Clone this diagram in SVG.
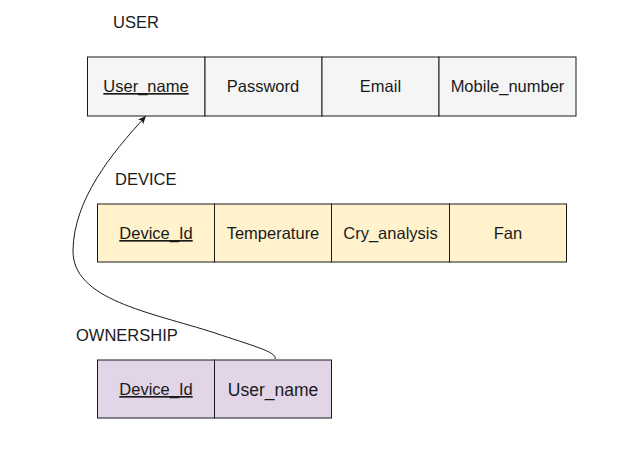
<svg xmlns="http://www.w3.org/2000/svg" width="635" height="465" viewBox="0 0 635 465">
<style>
text{font-family:"Liberation Sans",Arial,sans-serif;font-size:16.5px;fill:#1a1a1a}
.c{text-anchor:middle}
.k{text-decoration:underline}
.big{font-size:17.5px}
rect{stroke:#1a1a1a;stroke-width:1}
.u{fill:#f5f5f5}
.d{fill:#fff2cc}
.o{fill:#e1d5e7}
.edge{fill:none;stroke:#1a1a1a;stroke-width:1}
</style>
<defs>
<marker id="arr" markerWidth="10" markerHeight="10" refX="9" refY="5" orient="auto" markerUnits="userSpaceOnUse">
<path d="M1,1.5 L9,5 L1,8.5 L3,5 Z" fill="#1a1a1a"/>
</marker>
</defs>
<g id="user">
<text x="113" y="28">USER</text>
<rect class="u" x="87.5" y="57" width="117.5" height="59"/>
<rect class="u" x="205" y="57" width="117" height="59"/>
<rect class="u" x="322" y="57" width="117" height="59"/>
<rect class="u" x="439" y="57" width="137" height="59"/>
<text class="c k" x="146" y="92">User_name</text>
<text class="c" x="263" y="92">Password</text>
<text class="c" x="380.5" y="92">Email</text>
<text class="c" x="507.5" y="92">Mobile_number</text>
</g>
<g id="device">
<text x="115" y="185">DEVICE</text>
<rect class="d" x="97.5" y="204" width="117" height="58"/>
<rect class="d" x="214.5" y="204" width="117" height="58"/>
<rect class="d" x="331.5" y="204" width="118" height="58"/>
<rect class="d" x="449.5" y="204" width="117" height="58"/>
<text class="c k" x="156" y="239">Device_Id</text>
<text class="c" x="273" y="239">Temperature</text>
<text class="c" x="390.5" y="239">Cry_analysis</text>
<text class="c" x="508" y="239">Fan</text>
</g>
<g id="ownership">
<text x="76" y="341">OWNERSHIP</text>
<rect class="o" x="97.5" y="360" width="117" height="58"/>
<rect class="o" x="214.5" y="360" width="117" height="58"/>
<text class="c k" x="156" y="395">Device_Id</text>
<text class="c big" x="273" y="395.5">User_name</text>
</g>
<g id="connectors">
<path class="edge" d="M275,359 C278,352 250,345 215,333 C150,312 72,300 73,250 C74,200 110,155 146,116" marker-end="url(#arr)"/>
</g>
</svg>
